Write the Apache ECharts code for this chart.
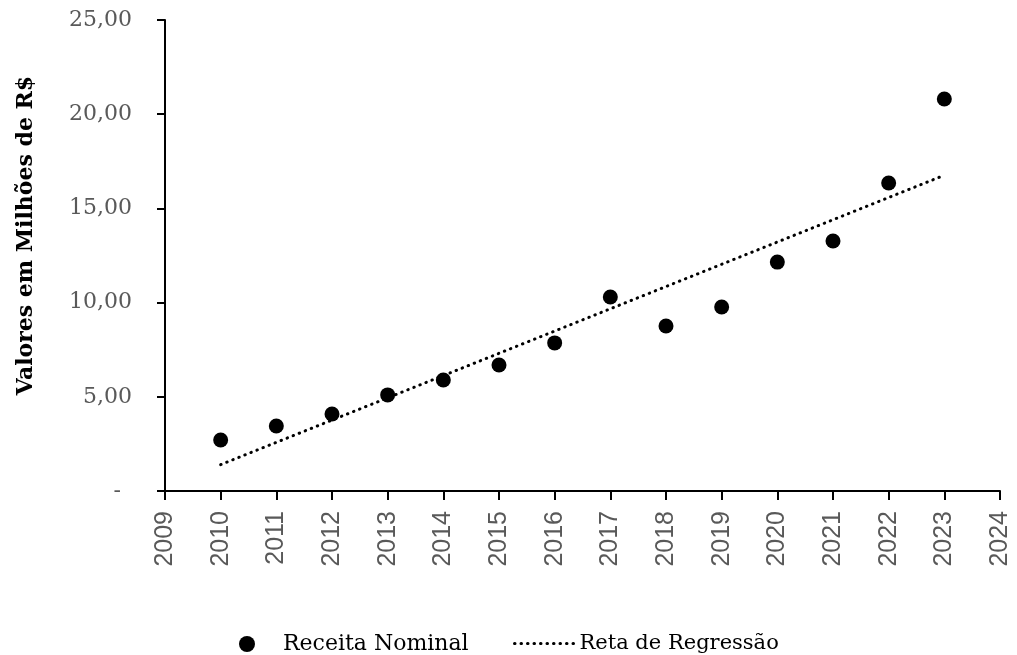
<!DOCTYPE html>
<html lang="pt-BR">
<head>
	<meta charset="UTF-8">
	<title>Receita Nominal</title>
	<style>
		html,body{margin:0;padding:0;background:#fff;}
		#main{width:1017px;height:655px;}
	</style>
</head>
<body>
	<div id="main"></div>
	<script src="https://cdn.jsdelivr.net/npm/echarts@6/dist/echarts.min.js"></script>
	<script>
		// dados
		var anos = [2010, 2011, 2012, 2013, 2014, 2015, 2016, 2017, 2018, 2019, 2020, 2021, 2022, 2023];
		var receita = [2.71, 3.45, 4.09, 5.10, 5.89, 6.69, 7.86, 10.30, 8.76, 9.77, 12.15, 13.27, 16.35, 20.81];
		// extremos da reta de regressão
		var retaAnos = [2010, 2023];
		var retaValores = [1.40, 16.76];

		var pontos = [];
		for (var i = 0; i < anos.length; i++) {
			pontos.push([anos[i], receita[i]]);
		}
		var reta = [];
		for (var j = 0; j < retaAnos.length; j++) {
			reta.push([retaAnos[j], retaValores[j]]);
		}

		var serif = '"DejaVu Serif", serif';
		var pontilhado = {color: '#000', width: 3, type: [0.5, 6], cap: 'round'};

		var myChart = echarts.init(document.getElementById('main'));
		var option = {
			animation: false,
			grid: {left: 165, right: 17, top: 20, bottom: 164},
			legend: [{
				data: [{name: 'Receita Nominal', icon: 'circle'}],
				left: 234, top: 628,
				itemWidth: 16, itemHeight: 16, itemGap: 0,
				textStyle: {fontFamily: serif, fontSize: 22, color: '#000', padding: [0, 0, 0, 23]}
			}, {
				data: [{name: 'Reta de Regressão', itemStyle: {opacity: 0}, lineStyle: pontilhado}],
				left: 508, top: 628,
				itemWidth: 62, itemHeight: 16,
				textStyle: {fontFamily: serif, fontSize: 21, color: '#000', padding: [0, 0, 0, -2]}
			}],
			xAxis: {
				type: 'value', min: 2009, max: 2024, interval: 1,
				splitLine: {show: false},
				axisLine: {onZero: false, lineStyle: {color: '#000', width: 2}},
				axisTick: {length: 9, lineStyle: {color: '#000', width: 2}},
				axisLabel: {
					rotate: 90, margin: 20, color: '#595959',
					fontFamily: '"Liberation Sans", Arial, sans-serif', fontSize: 25,
					formatter: function (v) { return String(v); }
				}
			},
			yAxis: {
				type: 'value', min: 0, max: 25, interval: 5,
				name: 'Valores em Milhões de R$',
				nameLocation: 'middle', nameGap: 128, nameRotate: 90,
				nameTextStyle: {fontFamily: serif, fontWeight: 'bold', fontSize: 22, color: '#000', padding: [0, 0, 0, 40]},
				splitLine: {show: false},
				axisLine: {show: true, lineStyle: {color: '#000', width: 2}},
				axisTick: {show: true, length: 8, lineStyle: {color: '#000', width: 2}},
				axisLabel: {
					margin: 33, color: '#595959', fontFamily: serif, fontSize: 22,
					formatter: function (v) {
						if (v === 0) return '{zero|-}';
						return v.toFixed(2).replace('.', ',');
					},
					rich: {
						zero: {fontFamily: serif, fontSize: 22, color: '#595959', padding: [0, 11, 0, 0]}
					}
				}
			},
			series: [{
				name: 'Receita Nominal',
				type: 'scatter',
				data: pontos,
				symbolSize: 15,
				itemStyle: {color: '#000', opacity: 1},
				z: 3
			}, {
				name: 'Reta de Regressão',
				type: 'line',
				data: reta,
				symbol: 'none',
				itemStyle: {color: '#000'},
				lineStyle: pontilhado,
				z: 2
			}]
		};
		myChart.setOption(option);
	</script>
</body>
</html>
